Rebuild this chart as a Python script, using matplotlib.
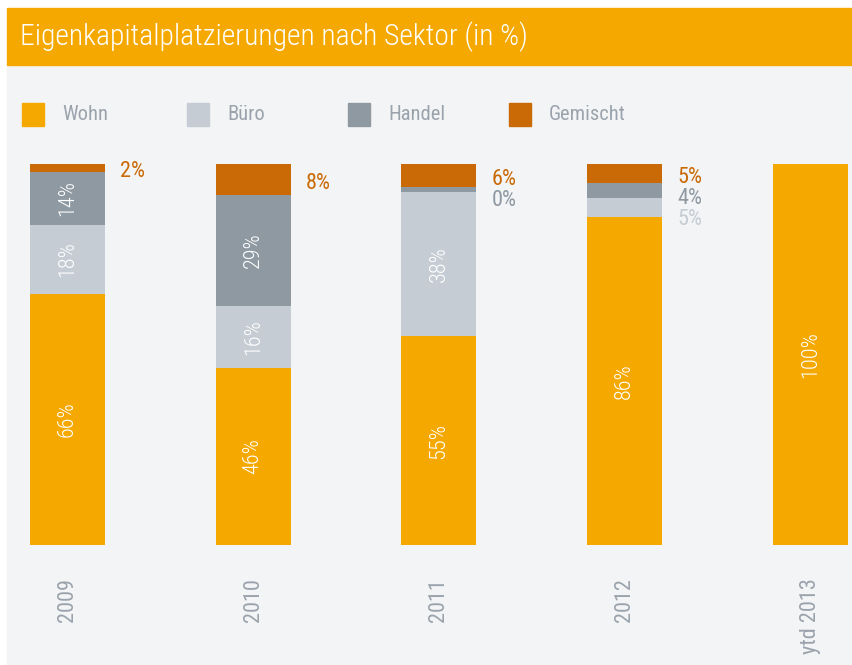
import matplotlib
matplotlib.use("Agg")
import matplotlib.pyplot as plt
from matplotlib.patches import Rectangle
import numpy as np

plt.rcParams['font.family'] = ['Roboto Condensed', 'DejaVu Sans']
plt.rcParams['font.weight'] = 300

# ---- data ----
years = ["2009", "2010", "2011", "2012", "ytd 2013"]
series_names = ["Wohn", "Büro", "Handel", "Gemischt"]
wohn = [66, 46, 55, 86, 100]
buero = [18, 16, 38, 5, 0]
handel = [14, 29, 1.3, 4, 0]
gemischt = [2, 8, 6, 5, 0]
wohn_labels = ["66%", "46%", "55%", "86%", "100%"]
buero_labels = ["18%", "16%", "38%", "5%", ""]
handel_labels = ["14%", "29%", "0%", "4%", ""]
gemischt_labels = ["2%", "8%", "6%", "5%", ""]
title = "Eigenkapitalplatzierungen nach Sektor (in %)"

colors = ["#f5a800", "#c5ccd3", "#8e99a2", "#c96a06"]
label_gray = "#9aa3ac"
bg = "#f3f4f6"

W, H = 852, 665
fig = plt.figure(figsize=(W / 100, H / 100), dpi=100, facecolor="white")

# background panels
fig.patches.append(Rectangle((7 / W, 1 - 664 / H), 1 - 7 / W, (664 - 65) / H,
                             transform=fig.transFigure, color=bg, zorder=0))
fig.patches.append(Rectangle((7 / W, 1 - 65 / H), 1 - 7 / W, (65 - 8) / H,
                             transform=fig.transFigure, color=colors[0], zorder=0))
fig.text(20 / W, 1 - 37 / H, title, color="white", fontsize=21.3, va="center", ha="left")

# legend
leg_x = [22, 187, 348, 509]
for name, c, lx in zip(series_names, colors, leg_x):
    fig.patches.append(Rectangle((lx / W, 1 - 126 / H), 22 / W, 23 / H,
                                 transform=fig.transFigure, color=c, zorder=1))
    fig.text((lx + 40) / W, 1 - 115 / H, name, color=label_gray, fontsize=14.8,
             va="center", ha="left", weight=400)

# axes: bars
x0, dx = 67.5, 185.75
ax_left, ax_right = 7, 852
ax_top, ax_bot = 164, 545
ax = fig.add_axes([ax_left / W, 1 - ax_bot / H, (ax_right - ax_left) / W, (ax_bot - ax_top) / H])
ax.set_zorder(5)
ax.set_xlim((ax_left - x0) / dx, (ax_right - x0) / dx)
ax.set_ylim(0, 100)
ax.axis("off")
ax.patch.set_alpha(0)

vals = np.array([wohn, buero, handel, gemischt], dtype=float)
totals = vals.sum(axis=0)
pct = vals / totals * 100
x = np.arange(len(years))
bw = 75 / dx
bottom = np.zeros(len(years))
bottoms = []
for i in range(4):
    ax.bar(x, pct[i], bottom=bottom, width=bw, color=colors[i], linewidth=0)
    bottoms.append(bottom.copy())
    bottom = bottom + pct[i]

all_labels = [wohn_labels, buero_labels, handel_labels, gemischt_labels]
px_per_unit = (ax_bot - ax_top) / 100.0
step = 21 / px_per_unit
for j in range(len(years)):
    for i in range(3):
        if all_labels[i][j] and pct[i][j] >= 10:
            ax.text(x[j], bottoms[i][j] + pct[i][j] / 2, all_labels[i][j], rotation=90,
                    color="white", fontsize=16, ha="center", va="center",
                    rotation_mode="anchor")
    # side labels for small segments (from top down)
    prev = None
    for i in [3, 2, 1]:
        lab = all_labels[i][j]
        if lab and pct[i][j] < 10:
            yc = bottoms[i][j] + pct[i][j] / 2
            y = min(yc - 1.0, 98.0)
            if prev is not None:
                y = min(y, prev - step)
            ax.text(x[j] + bw / 2 + 15 / dx, y, lab, color=colors[i], fontsize=16,
                    ha="left", va="center", weight=400)
            prev = y

# x tick labels
for j, yl in enumerate(years):
    ax.text(x[j], -33 / px_per_unit, yl, rotation=90, color=label_gray, fontsize=16,
            ha="center", va="top", weight=400)

fig.savefig("out.png", dpi=100, facecolor="white")
